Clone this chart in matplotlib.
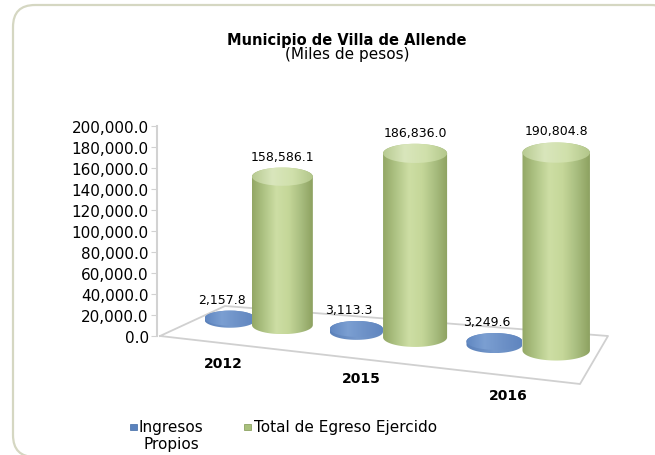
import numpy as np
import matplotlib
matplotlib.use('Agg')
import matplotlib.pyplot as plt
from matplotlib.patches import PathPatch, FancyBboxPatch, Rectangle, Ellipse
from matplotlib.path import Path
from matplotlib.colors import LinearSegmentedColormap

# Datos
anios = ['2012', '2015', '2016']
ingresos_propios = [2157.8, 3113.3, 3249.6]
egreso_ejercido = [158586.1, 186836.0, 190804.8]
series = ['Ingresos\nPropios', 'Total de Egreso Ejercido']
ticks = np.arange(0, 200001, 20000)

plt.rcParams['font.family'] = 'DejaVu Sans'

W, H = 655, 456
fig = plt.figure(figsize=(W / 100, H / 100), dpi=100)
ax = fig.add_axes([0, 0, 1, 1])
ax.set_xlim(0, W)
ax.set_ylim(H, 0)
ax.set_autoscale_on(False)
ax.axis('off')

# Marco redondeado
ax.add_patch(FancyBboxPatch((13, 6), 660, 452, boxstyle='round,pad=0,rounding_size=22',
                            fc='white', ec='#d5d7c2', lw=1.6, zorder=0))

# Eje de valores (eje real de matplotlib)
ax_v = fig.add_axes([157 / W, (H - 337) / H, 0.005, 210 / H])
ax_v.set_ylim(0, 200000)
ax_v.set_yticks(ticks)
ax_v.set_yticklabels(['{:,.1f}'.format(t) for t in ticks], fontsize=11)
ax_v.set_xticks([])
ax_v.patch.set_alpha(0)
for s in ['top', 'right', 'bottom']:
    ax_v.spines[s].set_visible(False)
ax_v.spines['left'].set_color('#d2d2d2')
ax_v.spines['left'].set_linewidth(1.5)
ax_v.tick_params(axis='y', direction='out', length=4, color='#d2d2d2', pad=2)

p0 = ax_v.transData.transform([(0, 0), (0, 200000)])
k0 = (p0[1, 1] - p0[0, 1]) / 200000.0   # pixeles por unidad en el eje

# Piso: esquinas (frente-izq, frente-der, fondo-der, fondo-izq)
P00 = np.array([160.0, 337.0])
P10 = np.array([580.0, 385.0])
P11 = np.array([608.0, 337.0])
P01 = np.array([225.0, 307.0])


def proj(u, v):
    uw = u ** 1.1
    front = P00 + uw * (P10 - P00)
    back = P01 + uw * (P11 - P01)
    p = front + v * (back - front)
    f = 0.955 + 0.14 * uw - 0.15 * v
    return p[0], p[1], f


floor = [proj(u, v)[:2] for u, v in [(0, 0), (1, 0), (1, 1), (0, 1), (0, 0)]]
fx, fy = zip(*floor)
ax.plot(fx, fy, color='#d0d0d0', lw=1.3, zorder=1)

green_body = LinearSegmentedColormap.from_list('gb', ['#93a765', '#afc485', '#cddea4', '#c5d799', '#a9be80', '#8da160'])
green_top = LinearSegmentedColormap.from_list('gt', ['#b7ca91', '#d9e6bc', '#d0e0ab', '#b2c68a'])
blue_body = LinearSegmentedColormap.from_list('bb', ['#5a80b9', '#7699cc', '#6086be'])
blue_top = LinearSegmentedColormap.from_list('bt', ['#6087c1', '#7b9fd2', '#6d91c7', '#5f85bf'])
grad = np.linspace(0, 1, 256).reshape(1, -1)
L = 397.0


def cylinder(u, v, r, value, cbody, ctop, z):
    x0, y0, f = proj(u, v)
    a = r * L * f
    b = a * 0.3
    ytop = y0 - value * k0 * f
    t = np.linspace(0, np.pi, 40)
    top = np.column_stack([x0 - a * np.cos(t), ytop - b * np.sin(t)])
    bot = np.column_stack([x0 + a * np.cos(t), y0 + b * np.sin(t)])
    verts = np.vstack([top, bot, top[:1]])
    patch = PathPatch(Path(verts), fc='none', ec='none', zorder=z)
    ax.add_patch(patch)
    im = ax.imshow(grad, cmap=cbody, extent=(x0 - a, x0 + a, y0 + b, ytop - b),
                   aspect='auto', origin='upper', zorder=z)
    im.set_clip_path(patch)
    el = Ellipse((x0, ytop), 2 * a, 2 * b, fc='none', ec='none', zorder=z + 0.1)
    ax.add_patch(el)
    im2 = ax.imshow(grad, cmap=ctop, extent=(x0 - a, x0 + a, ytop + b, ytop - b),
                    aspect='auto', origin='upper', zorder=z + 0.1)
    im2.set_clip_path(el)
    return x0, ytop - b


dep = 0.62
d = 0.072
for i, anio in enumerate(anios):
    uc = (i + 0.5) / 3
    xb, yb = cylinder(uc - d, dep, 0.073, ingresos_propios[i], blue_body, blue_top, 2 + i)
    ax.text(xb - 8, yb - 5, '{:,.1f}'.format(ingresos_propios[i]), ha='center', va='bottom',
            fontsize=9, zorder=10)
    xg, yg = cylinder(uc + d, dep, 0.086, egreso_ejercido[i], green_body, green_top, 2.5 + i)
    ax.text(xg, yg - 5, '{:,.1f}'.format(egreso_ejercido[i]), ha='center', va='bottom',
            fontsize=9, zorder=10)
    xf, yf, _ = proj(uc, 0)
    ax.text(xf + 5, yf + 20, anio, ha='center', va='center', fontsize=10, fontweight='bold', zorder=10)

# Titulo
ax.text(347, 40, 'Municipio de Villa de Allende', ha='center', va='center',
        fontsize=10.5, fontweight='bold')
ax.text(347, 54, '(Miles de pesos)', ha='center', va='center', fontsize=11)

# Leyenda
ax.add_patch(Rectangle((130, 425), 7, 6, fc='#5a82bd', ec='#3f6aa6', lw=0.5))
ax.text(171, 420, series[0], ha='center', va='top', fontsize=11, linespacing=1.15,
        multialignment='center')
ax.add_patch(Rectangle((244, 425), 7, 6, fc='#a9c07c', ec='#7f9650', lw=0.5))
ax.text(254, 428, series[1], ha='left', va='center', fontsize=11)

fig.savefig('out.png', dpi=100)
